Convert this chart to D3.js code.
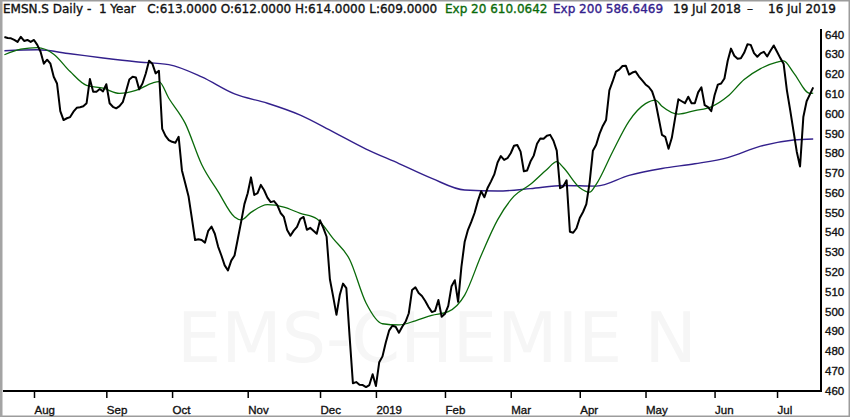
<!DOCTYPE html>
<html>
<head>
<meta charset="utf-8">
<script src="https://cdn.jsdelivr.net/npm/d3@7"></script>
<style>
  body { margin: 0; background: #fff; }
  svg { display: block; font-family: "DejaVu Sans", sans-serif; }
</style>
</head>
<body>
<svg id="chart" width="850" height="417"></svg>
<script>
// trading calendar (SIX), 19 Jul 2018 - 16 Jul 2019
const firstDay = '2018-07-19'
const lastDay = '2019-07-16'
const holidays = ['2018-08-01', '2018-12-24', '2018-12-25', '2018-12-26', '2018-12-31',
  '2019-01-01', '2019-01-02', '2019-04-19', '2019-04-22', '2019-05-01', '2019-05-30', '2019-06-10']

// daily close, one value per trading day
const closes = [
  638.5, 638, 637.8, 637, 636, 638.6, 636.5, 637, 636, 637,
  634.5, 631, 625, 627, 625, 618.4, 615, 601, 596.5, 597.4,
  598, 600.7, 602.7, 603, 603.5, 605, 617.2, 610.8, 610.8, 612.2,
  611, 614.6, 605, 603.2, 602.4, 603.5, 605.5, 611, 617, 618.4,
  618, 612, 615, 620, 626.5, 625, 620.1, 621.4, 592, 588.5,
  586.4, 585.5, 585, 588, 571, 564.5, 558, 547, 535.8, 536.2,
  535.8, 534.5, 540.5, 542.6, 539, 532.5, 528, 523, 520.5, 525.4,
  528, 536.5, 545, 554, 559.5, 567.5, 558.6, 559.5, 563.7, 561,
  557.3, 555, 555.5, 553.5, 549.5, 547.5, 540.9, 538, 540.6, 542.5,
  546.5, 547.5, 541, 542, 540.5, 539, 545.8, 542, 537.5, 516,
  507.2, 498, 508, 513.8, 511.5, 487, 463.4, 464, 462.6, 462.5,
  461.5, 462.5, 468, 462, 474, 477, 484, 490, 492.5, 492,
  489, 492, 494.5, 498.8, 510.6, 511.9, 509, 507.5, 505, 502,
  499.4, 500, 505.5, 497, 498.5, 502.5, 512.5, 515.5, 504.6, 522.3,
  535, 541, 545, 549.5, 555.5, 560.5, 557.5, 562.3, 565.5, 569,
  575, 578.3, 576.3, 577.2, 579.7, 583.5, 583.9, 580.5, 570.6, 571,
  575.5, 578.5, 584.5, 587.2, 587, 588.6, 589, 586, 581, 562,
  563, 566, 540, 539.5, 541.8, 547, 550, 554, 565, 581,
  584, 589.5, 593.5, 596.5, 611.5, 616, 621, 622, 623.8, 624,
  619.5, 620.5, 621, 618.5, 616.5, 614.5, 613.2, 611, 606, 597.5,
  589, 588, 582, 587.5, 597.5, 607, 606, 605, 608.3, 605,
  605, 610.5, 613, 604, 603, 601, 609, 614.4, 615, 617.5,
  626.5, 632.6, 629, 627.5, 627.7, 630.5, 634.8, 634.5, 630.3, 628.5,
  630.2, 631, 628.6, 631.5, 634.2, 631, 627.8, 625, 611.5, 601.5,
  591, 580.5, 573, 598, 606, 609.5, 613
]

// Exp 20
const ema20Dates = ['2018-07-19', '2018-07-26', '2018-08-03', '2018-08-10', '2018-08-17', '2018-08-24',
  '2018-08-31', '2018-09-07', '2018-09-14', '2018-09-21', '2018-09-25', '2018-09-28', '2018-10-05',
  '2018-10-12', '2018-10-19', '2018-10-26', '2018-10-30', '2018-11-02', '2018-11-09', '2018-11-16',
  '2018-11-23', '2018-11-30', '2018-12-07', '2018-12-14', '2018-12-21', '2019-01-07', '2019-01-14',
  '2019-01-21', '2019-01-28', '2019-02-04', '2019-02-11', '2019-02-18', '2019-02-25', '2019-03-04',
  '2019-03-11', '2019-03-18', '2019-03-21', '2019-03-25', '2019-04-01', '2019-04-04', '2019-04-08',
  '2019-04-15', '2019-04-24', '2019-05-02', '2019-05-07', '2019-05-09', '2019-05-16', '2019-05-23',
  '2019-05-31', '2019-06-07', '2019-06-17', '2019-06-24', '2019-07-01', '2019-07-03', '2019-07-08',
  '2019-07-15', '2019-07-16']
const ema20 = [629.5, 632.3, 633.1, 629.8, 621, 614,
  612.6, 610, 611.5, 615.2, 615.9, 607.5, 594.8,
  574, 560.3, 547.5, 546, 549.8, 553.7, 552.5,
  549.3, 546.6, 536.5, 526, 504, 493.5, 492.9,
  495, 497.7, 499.6, 508, 528, 546, 558,
  564, 571.5, 575.5, 572.5, 562.3, 560, 564,
  580.5, 596, 604.8, 606.6, 603.5, 599.5, 601.3,
  603.2, 608.5, 617, 622.5, 625.8, 626.4, 620.5,
  610, 610.1]

// Exp 200
const ema200Dates = ['2018-07-19', '2018-08-03', '2018-08-17', '2018-08-31', '2018-09-14', '2018-09-28',
  '2018-10-12', '2018-10-26', '2018-11-09', '2018-11-23', '2018-12-07', '2018-12-21', '2019-01-14',
  '2019-01-28', '2019-02-11', '2019-02-25', '2019-03-11', '2019-03-25', '2019-04-08', '2019-04-24',
  '2019-05-09', '2019-05-23', '2019-06-07', '2019-06-24', '2019-07-08', '2019-07-16']
const ema200 = [631.5, 632, 630, 627.9, 626, 624.5,
  618.3, 609.7, 605, 599, 590.5, 581.8, 574.5,
  567, 561.1, 560.6, 561.8, 563.4, 563.1, 568.5,
  572, 574.4, 577.5, 583.3, 586.4, 586.9]

const yTicks = [460, 470, 480, 490, 500, 510, 520, 530, 540, 550, 560, 570, 580, 590, 600, 610, 620, 630, 640]

const header = [
  { text: 'EMSN.S Daily -  1 Year   C:613.0000 O:612.0000 H:614.0000 L:609.0000', x: 3, color: '#111' },
  { text: 'Exp 20 610.0642', x: 445, color: '#0a6a0a' },
  { text: 'Exp 200 586.6469', x: 553, color: '#33208c' },
  { text: '19 Jul 2018', x: 673, color: '#111' },
  { text: '\u2013', x: 747, color: '#111' },
  { text: '16 Jul 2019', x: 768, color: '#111' }
]

const fmt = d3.timeFormat('%Y-%m-%d')
const parse = d3.timeParse('%Y-%m-%d')
const days = d3.timeDay.range(parse(firstDay), d3.timeDay.offset(parse(lastDay), 1))
  .filter(d => d.getDay() !== 0 && d.getDay() !== 6 && !holidays.includes(fmt(d)))
  .map(fmt)

const svg = d3.select('#chart')
const W = 850, H = 417
const plot = { left: 3, right: 821, top: 22, bottom: 391 }

const x = d3.scalePoint().domain(days).range([4.4, 813.2])
const y = d3.scaleLinear().domain([460, 640]).range([390, 34])

// frame
svg.append('rect').attr('x', 0).attr('y', 0).attr('width', W).attr('height', H).attr('fill', '#fff')
svg.append('rect')
  .attr('x', 0.75).attr('y', 0.75).attr('width', W - 1.5).attr('height', H - 1.5)
  .attr('fill', 'none').attr('stroke', '#9c9c9c').attr('stroke-width', 1.5)
svg.append('rect').attr('x', 0).attr('y', 0).attr('width', 2.5).attr('height', H).attr('fill', '#a4a4a4')

// watermark
svg.append('text')
  .attr('x', 437).attr('y', 362)
  .attr('text-anchor', 'middle')
  .style('font-size', '70px')
  .attr('fill', '#f6f6f6')
  .text('EMS-CHEMIE N')

svg.append('defs').append('clipPath').attr('id', 'clip')
  .append('rect')
  .attr('x', plot.left).attr('y', plot.top)
  .attr('width', plot.right - plot.left - 1).attr('height', plot.bottom - plot.top - 1)

const g = svg.append('g').attr('clip-path', 'url(#clip)')

const smooth = d3.line()
  .x(d => x(d[0]))
  .y(d => y(d[1]))
  .curve(d3.curveMonotoneX)

g.append('path')
  .datum(d3.zip(ema200Dates, ema200))
  .attr('fill', 'none').attr('stroke', '#33208c').attr('stroke-width', 1.4)
  .attr('d', smooth)

g.append('path')
  .datum(d3.zip(ema20Dates, ema20))
  .attr('fill', 'none').attr('stroke', '#0a6a0a').attr('stroke-width', 1.3)
  .attr('d', smooth)

const closeLine = d3.line()
  .x((d, i) => x(days[i]))
  .y(d => y(d))

g.append('path')
  .datum(closes)
  .attr('fill', 'none').attr('stroke', '#000').attr('stroke-width', 2)
  .attr('stroke-linejoin', 'round')
  .attr('d', closeLine)

// text is a touch heavier in the original, thicken regular weight slightly
const heavy = (sel, color) => sel.attr('fill', color).attr('stroke', color).attr('stroke-width', 0.35)

// right axis
const yAxis = svg.append('g')
  .attr('class', 'axis y-axis')
  .attr('transform', `translate(${plot.right}, 0)`)
  .call(d3.axisRight(y).tickValues(yTicks).tickSize(0).tickPadding(4))
yAxis.select('.domain').remove()
yAxis.selectAll('text')
  .call(heavy, '#111')
  .style('font-size', '11.5px')
  .attr('dy', '0.36em')

svg.append('line')
  .attr('x1', plot.right).attr('x2', plot.right)
  .attr('y1', 29).attr('y2', plot.bottom + 1)
  .attr('stroke', '#000').attr('stroke-width', 2)

// bottom axis, ticks on the first trading day of each month
const monthStarts = days.filter((d, i) => i > 0 && d.slice(0, 7) !== days[i - 1].slice(0, 7))
const monthLabel = d => d.slice(5, 7) === '01' ? d.slice(0, 4) : d3.timeFormat('%b')(parse(d))

const xAxis = svg.append('g')
  .attr('class', 'axis x-axis')
  .attr('transform', `translate(0, ${plot.bottom})`)
  .call(d3.axisBottom(x).tickValues(monthStarts).tickFormat(monthLabel).tickSize(7).tickPadding(8))
xAxis.select('.domain').remove()
xAxis.selectAll('.tick line').attr('stroke', '#000').attr('stroke-width', 1.5)
xAxis.selectAll('.tick text')
  .call(heavy, '#111')
  .style('font-size', '11.5px')
  .style('text-anchor', 'start')
  .attr('x', 0)

svg.append('line')
  .attr('x1', plot.left).attr('x2', plot.right + 1)
  .attr('y1', plot.bottom).attr('y2', plot.bottom)
  .attr('stroke', '#000').attr('stroke-width', 2)

// header
svg.append('g').selectAll('text')
  .data(header)
  .join('text')
  .attr('x', d => d.x).attr('y', 13)
  .each(function(d) { d3.select(this).call(heavy, d.color) })
  .style('font-size', '12px')
  .style('white-space', 'pre')
  .text(d => d.text)
</script>
</body>
</html>
